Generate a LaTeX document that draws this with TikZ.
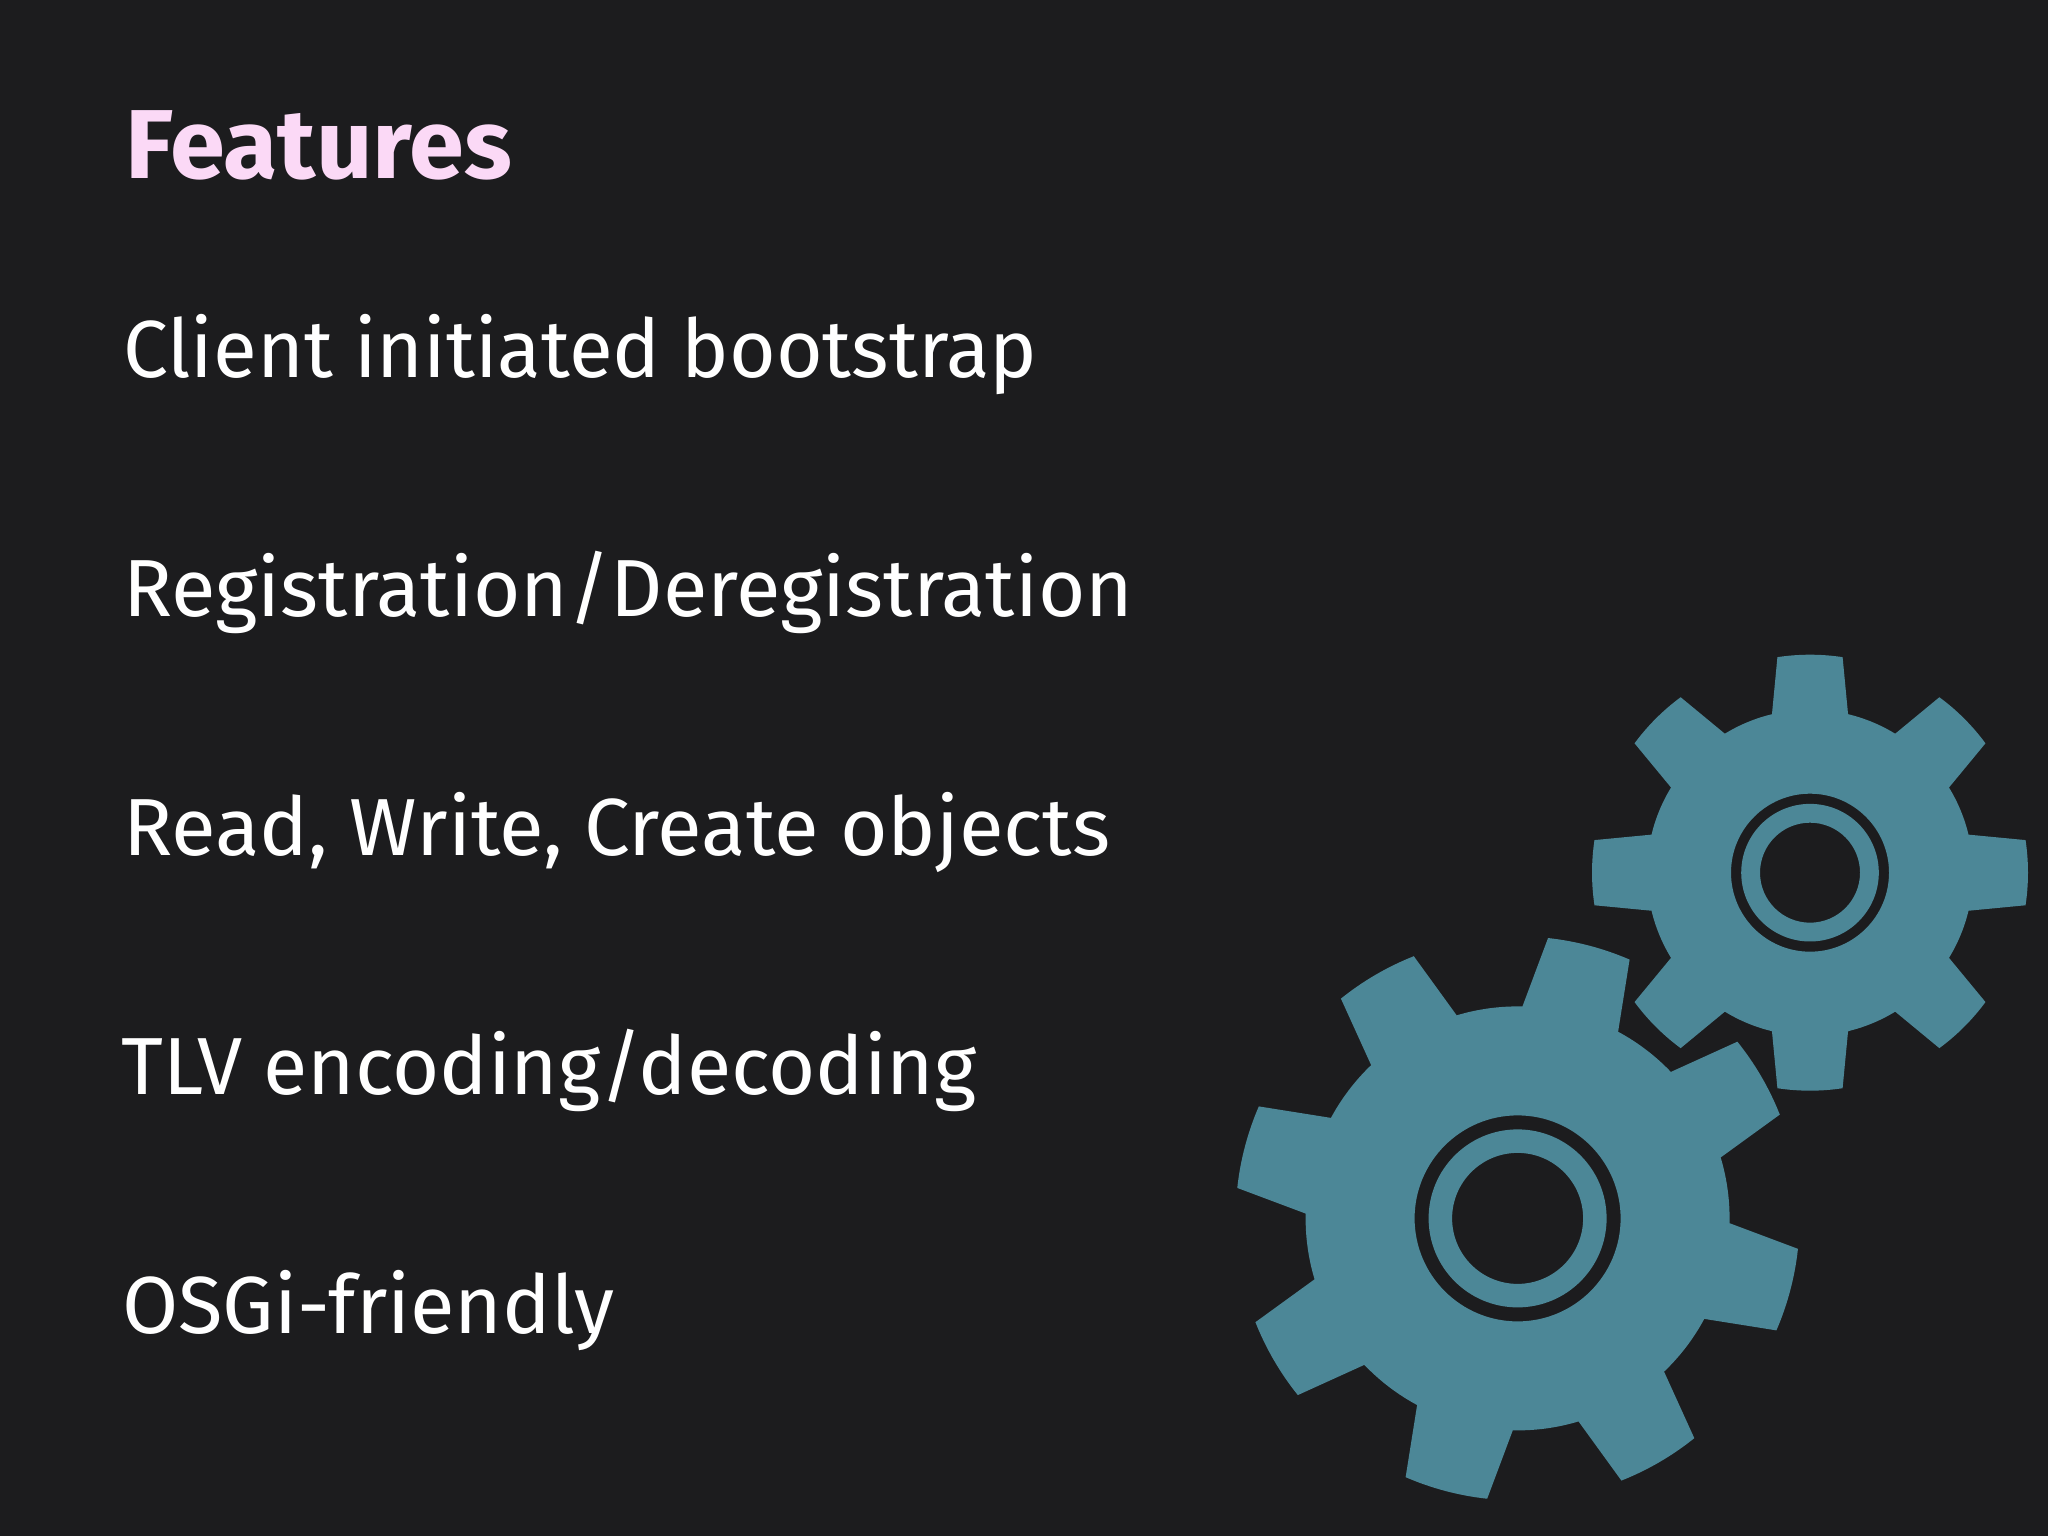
\documentclass[tikz,border=0pt]{standalone}
\usepackage{fontspec}
\setmainfont{Fira Sans}
\definecolor{bgdark}{HTML}{1C1C1E}
\definecolor{gearteal}{HTML}{4C8797}
\definecolor{titlepink}{HTML}{FBD9F6}
\tikzset{
  bodytext/.style={anchor=base west,inner sep=0pt,text=white,transform shape,font=\fontsize{81}{90}\selectfont},
  titletext/.style={anchor=base west,inner sep=0pt,text=titlepink,transform shape,font=\fontsize{98}{110}\selectfont\bfseries},
  gearfill/.style={fill=gearteal,even odd rule}
}
% #1 centre, #2 phase, #3 outer R, #4 root r, #5 hole, #6 ring in, #7 ring out
\newcommand{\gearshape}[7]{%
  \fill[gearfill,shift={#1}]
    (#2-45+13.5:#4pt)
    \foreach \k in {0,...,7}{
      arc[start angle=#2+45*\k-45+13.5,end angle=#2+45*\k-13.5,radius=#4pt]
      -- (#2+45*\k-8.6:#3pt)
      arc[start angle=#2+45*\k-8.6,end angle=#2+45*\k+8.6,radius=#3pt]
      -- (#2+45*\k+13.5:#4pt)
    } -- cycle
    (0,0) circle[radius=#5pt]
    (0,0) circle[radius=#6pt]
    (0,0) circle[radius=#7pt];
}
\begin{document}
\begin{tikzpicture}[x=1pt,y=1pt]
\fill[bgdark] (0,0) rectangle (2048,1536);
\useasboundingbox (0,0) rectangle (2048,1536);
\node[titletext,xscale=1.01] (title) at (125,1357) {Features};
\node[bodytext,xscale=0.989] (l1) at (123,1158) {Client initiated bootstrap};
\node[bodytext,xscale=1.004] (l2) at (123,919) {Registration/Deregistration};
\node[bodytext,xscale=1.008] (l3) at (123,680) {Read, Write, Create objects};
\node[bodytext] (l4) at (121,441) {TLV encoding/decoding};
\node[bodytext,xscale=1.005] (l5) at (122,202) {OSGi-friendly};
\gearshape{(1517.6,317.6)}{30.2}{282}{212}{65.5}{89}{103}
\gearshape{(1810,663.3)}{0}{218}{163}{50}{68.8}{79}
\end{tikzpicture}
\end{document}
